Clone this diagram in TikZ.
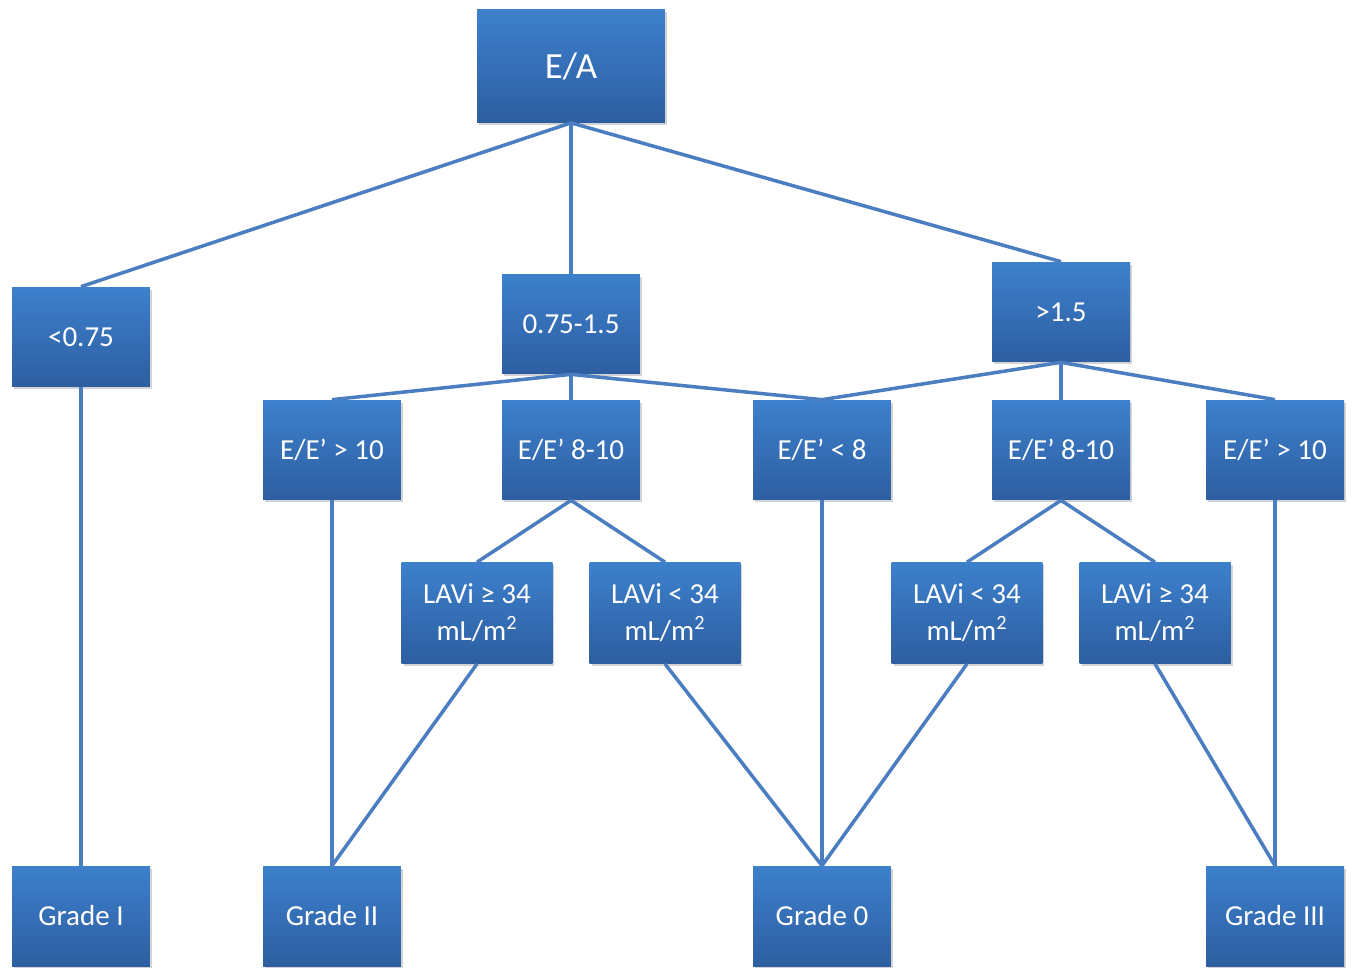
\documentclass[tikz,border=0pt]{standalone}
\usepackage{fontspec}
\setmainfont{Carlito}
\usetikzlibrary{shadows}
\definecolor{boxtop}{RGB}{61,128,204}
\definecolor{boxbot}{RGB}{45,94,161}
\definecolor{linkblue}{RGB}{74,126,193}
\begin{document}
\begin{tikzpicture}[x=0.02cm, y=-0.02cm,
  box/.style={rectangle, top color=boxtop, bottom color=boxbot, draw=none,
    text=white, font=\fontsize{16.5}{21}\selectfont, align=center,
    minimum width=2.76cm, minimum height=2cm, inner sep=0pt,
    drop shadow={opacity=0.35, shadow xshift=0.04cm, shadow yshift=-0.05cm}},
  wide/.style={minimum width=3.02cm, minimum height=2.02cm},
  link/.style={draw=linkblue, line width=2pt}] %%Grading tree
\useasboundingbox (0,0) rectangle (1352,967);
%%Top
\node[box, minimum width=3.76cm, minimum height=2.26cm, font=\fontsize{21}{25}\selectfont] (ea) at (571,66) {E/A};
%%Second row
\node[box] (lowEA) at (81,337) {<0.75};
\node[box] (midEA) at (571,324) {0.75-1.5};
\node[box] (highEA) at (1061,312) {>1.5};
%%Third row
\node[box] (eeA) at (332,450) {E/E’ > 10};
\node[box] (eeB) at (571,450) {E/E’ 8-10};
\node[box] (eeC) at (822,450) {E/E’ < 8};
\node[box] (eeD) at (1061,450) {E/E’ 8-10};
\node[box] (eeE) at (1275,450) {E/E’ > 10};
%%LAVi row
\node[box, wide] (laA) at (477,613) {LAVi ≥ 34\\mL/m\textsuperscript{2}};
\node[box, wide] (laB) at (665,613) {LAVi < 34\\mL/m\textsuperscript{2}};
\node[box, wide] (laC) at (967,613) {LAVi < 34\\mL/m\textsuperscript{2}};
\node[box, wide] (laD) at (1155,613) {LAVi ≥ 34\\mL/m\textsuperscript{2}};
%%Grades
\node[box] (gI) at (81,916) {Grade I};
\node[box] (gII) at (332,916) {Grade II};
\node[box] (g0) at (822,916) {Grade 0};
\node[box] (gIII) at (1275,916) {Grade III};
%%Links
\draw[link] (ea.south) -- (lowEA.north);
\draw[link] (ea.south) -- (midEA.north);
\draw[link] (ea.south) -- (highEA.north);
\draw[link] (midEA.south) -- (eeA.north);
\draw[link] (midEA.south) -- (eeB.north);
\draw[link] (midEA.south) -- (eeC.north);
\draw[link] (highEA.south) -- (eeC.north);
\draw[link] (highEA.south) -- (eeD.north);
\draw[link] (highEA.south) -- (eeE.north);
\draw[link] (eeB.south) -- (laA.north);
\draw[link] (eeB.south) -- (laB.north);
\draw[link] (eeD.south) -- (laC.north);
\draw[link] (eeD.south) -- (laD.north);
\draw[link] (lowEA.south) -- (gI.north);
\draw[link] (eeA.south) -- (gII.north);
\draw[link] (laA.south) -- (gII.north);
\draw[link] (laB.south) -- (g0.north);
\draw[link] (eeC.south) -- (g0.north);
\draw[link] (laC.south) -- (g0.north);
\draw[link] (laD.south) -- (gIII.north);
\draw[link] (eeE.south) -- (gIII.north);
\end{tikzpicture}
\end{document}
